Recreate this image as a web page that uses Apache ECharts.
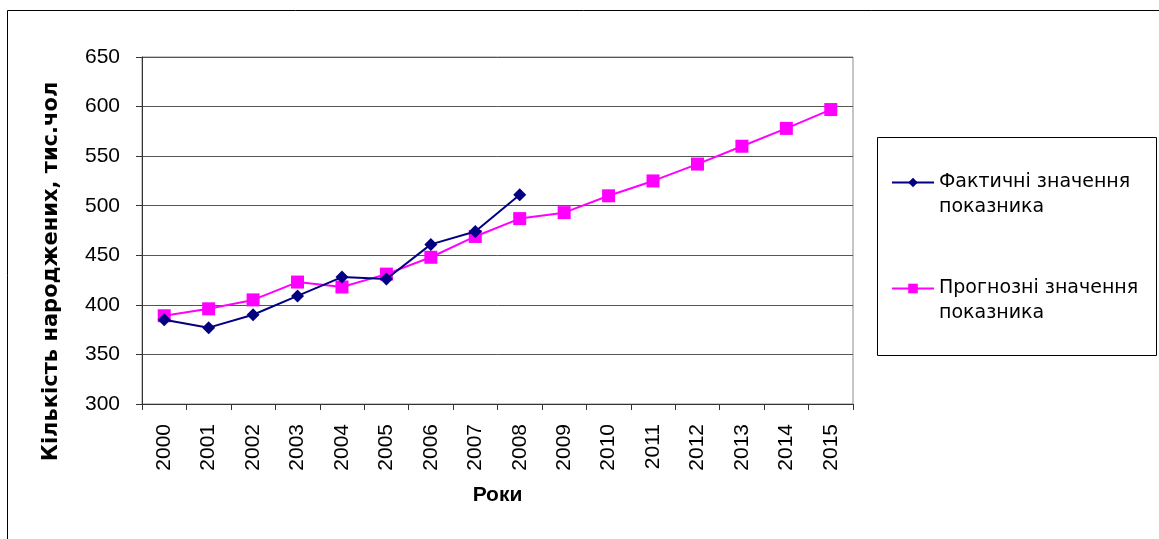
<!DOCTYPE html>
<html>
<head>
<meta charset="utf-8">
<script src="https://cdn.jsdelivr.net/npm/echarts@6/dist/echarts.min.js"></script>
<style>
html,body{margin:0;padding:0;background:#fff;}
#chart{width:1159px;height:539px;}
</style>
</head>
<body>
<div id="chart"></div>
<script>
const years = ['2000','2001','2002','2003','2004','2005','2006','2007','2008','2009','2010','2011','2012','2013','2014','2015'];
const actualValues = [385, 377, 390, 409, 428, 426, 461, 474, 511];
const forecastValues = [389, 396, 405, 423, 418, 431, 448, 469, 487, 493, 510, 525, 542, 560, 578, 597];
const yTicks = [300, 350, 400, 450, 500, 550, 600, 650];
const seriesNames = ['Фактичні значення показника', 'Прогнозні значення показника'];
const legendLabels = ['\nФактичні значення\nпоказника', '\nПрогнозні значення\nпоказника'];

const chart = echarts.init(document.getElementById('chart'));
const font = 'Arial, "Liberation Sans", sans-serif';
const wideFont = '"DejaVu Sans", Arial, sans-serif';
chart.setOption({
  animation: false,
  backgroundColor: '#fff',
  grid: { left: 142, right: 306, top: 57, bottom: 135, show: true, borderColor: '#8c8c8c', borderWidth: 1 },
  graphic: [
    { type: 'rect', shape: { x: 7.5, y: 10.5, width: 1200, height: 600 }, style: { fill: 'none', stroke: '#000', lineWidth: 1 }, z: 0 },
    { type: 'rect', shape: { x: 877.5, y: 137.5, width: 279, height: 218 }, style: { fill: '#fff', stroke: '#000', lineWidth: 1 }, z: 1 }
  ],
  legend: {
    orient: 'vertical',
    left: 886,
    top: 140,
    itemGap: 31,
    itemWidth: 42,
    itemHeight: 12,
    z: 5,
    data: seriesNames,
    formatter: function (name) { return legendLabels[seriesNames.indexOf(name)]; },
    textStyle: { fontFamily: wideFont, fontSize: 19, color: '#000', lineHeight: 25 }
  },
  xAxis: {
    type: 'category',
    data: years,
    boundaryGap: true,
    name: 'Роки',
    nameLocation: 'middle',
    nameGap: 81,
    nameTextStyle: { fontFamily: font, fontSize: 21, fontWeight: 'bold', color: '#000' },
    axisLine: { lineStyle: { color: '#333', width: 1 } },
    axisTick: { show: true, alignWithLabel: false, length: 6, lineStyle: { color: '#333' } },
    axisLabel: { rotate: 90, margin: 20, fontFamily: font, fontSize: 21, color: '#000' },
    splitLine: { show: false }
  },
  yAxis: {
    type: 'value',
    min: 300,
    max: 650,
    interval: 50,
    name: 'Кількість народжених, тис.чол',
    nameLocation: 'middle',
    nameGap: 80,
    nameRotate: 90,
    nameTextStyle: { fontFamily: wideFont, fontSize: 21, fontWeight: 'bold', color: '#000', padding: [0, 82, 0, 0] },
    axisLine: { show: true, lineStyle: { color: '#333', width: 1 } },
    axisTick: { show: true, length: 6, lineStyle: { color: '#333' } },
    axisLabel: { margin: 22, fontFamily: font, fontSize: 21, color: '#000',
      formatter: function (v) { return yTicks.indexOf(v) >= 0 ? String(v) : ''; } },
    splitLine: { show: true, lineStyle: { color: '#555', width: 1 } }
  },
  series: [
    {
      name: seriesNames[0],
      type: 'line',
      data: actualValues,
      symbol: 'diamond',
      symbolSize: 13,
      color: '#000080',
      lineStyle: { color: '#000080', width: 2 },
      itemStyle: { color: '#000080' },
      z: 3
    },
    {
      name: seriesNames[1],
      type: 'line',
      data: forecastValues,
      symbol: 'rect',
      symbolSize: 13,
      color: '#ff00ff',
      lineStyle: { color: '#ff00ff', width: 2 },
      itemStyle: { color: '#ff00ff' },
      z: 2
    }
  ]
});
</script>
</body>
</html>
